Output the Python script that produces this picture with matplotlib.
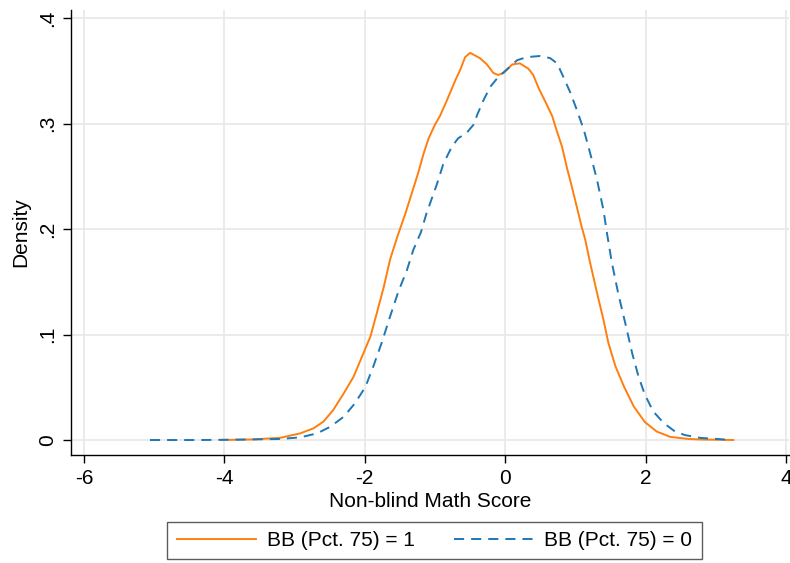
import matplotlib
matplotlib.use("Agg")
import numpy as np
import matplotlib.pyplot as plt

plt.rcParams['font.family'] = ['Liberation Sans', 'DejaVu Sans']
plt.rcParams['axes.unicode_minus'] = False

# kernel density readings: BB (Pct. 75) = 1
x_bb1 = [-4.06, -3.63, -3.21, -2.92, -2.73, -2.59, -2.45, -2.30, -2.16, -2.04,
         -1.92, -1.83, -1.73, -1.64, -1.53, -1.42, -1.33, -1.24, -1.16, -1.09,
         -1.00, -0.93, -0.83, -0.71, -0.64, -0.57, -0.50, -0.36, -0.26, -0.17,
         -0.10, -0.02, 0.10, 0.21, 0.33, 0.40, 0.48, 0.57, 0.67, 0.74,
         0.81, 0.88, 0.95, 1.02, 1.09, 1.14, 1.21, 1.31, 1.40, 1.47,
         1.57, 1.69, 1.83, 1.99, 2.16, 2.35, 2.61, 2.78, 3.25]
y_bb1 = [0.0, 0.0005, 0.002, 0.0063, 0.0111, 0.0174, 0.0284, 0.0442, 0.060, 0.079,
         0.098, 0.120, 0.145, 0.171, 0.194, 0.215, 0.234, 0.253, 0.272, 0.286,
         0.299, 0.307, 0.322, 0.341, 0.351, 0.363, 0.367, 0.362, 0.356, 0.348,
         0.346, 0.348, 0.356, 0.357, 0.352, 0.346, 0.333, 0.321, 0.307, 0.292,
         0.278, 0.258, 0.240, 0.221, 0.202, 0.190, 0.168, 0.139, 0.114, 0.092,
         0.070, 0.051, 0.032, 0.017, 0.008, 0.003, 0.001, 0.0005, 0.0]

# BB (Pct. 75) = 0
x_bb0 = [-5.06, -4.34, -3.63, -3.21, -2.92, -2.68, -2.49, -2.30, -2.14, -1.99,
         -1.88, -1.76, -1.64, -1.52, -1.40, -1.31, -1.20, -1.12, -0.97, -0.88,
         -0.76, -0.67, -0.55, -0.45, -0.40, -0.31, -0.21, -0.10, 0.02, 0.17,
         0.31, 0.50, 0.64, 0.74, 0.83, 0.93, 1.02, 1.12, 1.21, 1.31,
         1.40, 1.45, 1.52, 1.61, 1.71, 1.81, 1.90, 1.99, 2.11, 2.26,
         2.42, 2.56, 2.78, 3.02, 3.21]
y_bb0 = [0.0, 0.0, 0.0005, 0.001, 0.0025, 0.0063, 0.0126, 0.0221, 0.0348, 0.0505,
         0.0695, 0.092, 0.117, 0.141, 0.161, 0.180, 0.197, 0.215, 0.243, 0.262,
         0.278, 0.286, 0.291, 0.299, 0.308, 0.322, 0.335, 0.344, 0.351, 0.360,
         0.363, 0.364, 0.362, 0.357, 0.344, 0.329, 0.313, 0.294, 0.272, 0.246,
         0.218, 0.196, 0.168, 0.139, 0.111, 0.082, 0.060, 0.043, 0.027, 0.016,
         0.008, 0.0047, 0.002, 0.001, 0.0]

xticks = [-6, -4, -2, 0, 2, 4]
yticks = [0, 0.1, 0.2, 0.3, 0.4]
ytick_labels = ['0', '.1', '.2', '.3', '.4']

fig = plt.figure(figsize=(7.9, 5.63), dpi=100)
ax = fig.add_axes([71/790, 108/563, 718/790, 445/563])

ax.plot(x_bb1, y_bb1, color='#ff7f0e', lw=1.4, label='BB (Pct. 75) = 1')
ax.plot(x_bb0, y_bb0, color='#1f77b4', lw=1.4, ls=(0, (5.2, 3.6)), label='BB (Pct. 75) = 0')

ax.set_xlim(-6.185, 4.043)
ax.set_ylim(-0.0142, 0.4076)
ax.set_xticks(xticks)
ax.set_yticks(yticks)
ax.set_yticklabels(ytick_labels, rotation=90, va='center')
ax.grid(True, color='#e8e8e8', lw=1.2)
ax.set_axisbelow(True)
for s in ['top', 'right']:
    ax.spines[s].set_visible(False)
ax.spines['left'].set_linewidth(1.0)
ax.spines['bottom'].set_linewidth(1.0)
ax.tick_params(direction='out', length=6, width=1.0, labelsize=15, pad=4)

ax.set_xlabel('Non-blind Math Score', fontsize=15, labelpad=3)
ax.set_ylabel('Density', fontsize=15, labelpad=6)

leg = fig.legend(loc='center', bbox_to_anchor=(434.5/790, 1 - 540.5/563), ncol=2,
                 fontsize=15, frameon=True, fancybox=False, edgecolor='#333333',
                 handlelength=3.8, handletextpad=0.55, columnspacing=1.85,
                 borderpad=0.45, borderaxespad=0)
leg.get_frame().set_linewidth(1.0)

fig.savefig('out.png', dpi=100)
